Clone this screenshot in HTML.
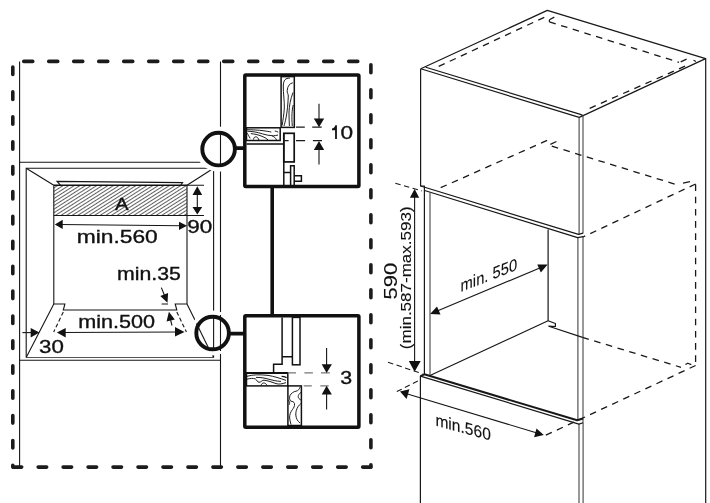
<!DOCTYPE html>
<html><head><meta charset="utf-8">
<style>
html,body{margin:0;padding:0;background:#fff;width:710px;height:503px;overflow:hidden}
svg{display:block;will-change:transform}
text{font-family:"Liberation Sans",sans-serif;fill:#111;stroke:#111;stroke-width:0.35}
.t{stroke:#151515;stroke-width:1.1;fill:none}
.g{stroke:#555;stroke-width:1.2;fill:none}
.k{stroke:#111;fill:none}
.d{stroke:#1c1c1c;stroke-width:3.6;stroke-linecap:round;fill:none}
.h{fill:#fff;stroke:none}
.ah{fill:#111;stroke:none}
.dl{stroke:#1a1a1a;stroke-width:1.1;fill:none;stroke-dasharray:5.5 3.5}
.w{stroke:#111;stroke-width:0.95;fill:none}
.b{stroke:#111;stroke-width:1.5;fill:none}
.b *{fill:none}
.c{stroke:#181818;stroke-width:1.2;fill:none;stroke-linejoin:round}
.dc{stroke:#181818;stroke-width:1.3;fill:none;stroke-dasharray:6.6 5.6}
</style></head>
<body>
<svg width="710" height="503" viewBox="0 0 710 503">
<defs>
<pattern id="hatch" patternUnits="userSpaceOnUse" width="6" height="3.0" patternTransform="rotate(-32.4)">
<line x1="0" y1="1.5" x2="6" y2="1.5" stroke="#222" stroke-width="0.72"/>
</pattern>
</defs>

<!-- ===== LEFT: heavy dashed border ===== -->
<line class="d" x1="23.75" y1="61.4" x2="360" y2="61.4" stroke-dasharray="9 16"/>
<line class="d" x1="370.9" y1="64.7" x2="370.9" y2="467.1" stroke-dasharray="8 17"/>
<line class="d" x1="13.2" y1="467.1" x2="370.9" y2="467.1" stroke-dasharray="8.5 16.46"/>
<line class="d" x1="12.8" y1="67" x2="12.8" y2="467.1" stroke-dasharray="7.5 17.4"/>

<!-- cabinet thin lines -->
<line class="t" x1="19.6" y1="61.4" x2="19.6" y2="467.1"/>
<line class="t" x1="220.5" y1="61.4" x2="220.5" y2="467.1"/>
<line class="t" x1="19.6" y1="162.3" x2="220.5" y2="162.3"/>
<line class="t" x1="19.6" y1="360.3" x2="220.5" y2="360.3"/>

<!-- oven outer -->
<path class="t" d="M26.2,357.5 V168.2 H213.6 V357.5"/>
<line class="g" x1="26.2" y1="357.5" x2="213.6" y2="357.5" stroke-width="1.4"/>
<!-- corner diagonals -->
<path class="t" d="M26.2,168.2 L53.8,185.3 M213.6,168.2 L187,185.3 M26.2,357.5 L53.8,304 M213.6,357.5 L187,304"/>
<!-- inner verticals -->
<path class="t" d="M53.8,185.3 V304 M187,185.3 V304"/>
<!-- trapezoid above hatch -->
<path class="t" d="M60.6,185.3 L57,181.4 L182.6,182.6 L180.8,185.3"/>
<!-- hatched rect -->
<rect x="53.8" y="185.3" width="133.2" height="30.2" fill="url(#hatch)"/>
<line class="k" x1="53.8" y1="185.3" x2="187" y2="185.3" stroke-width="1.5"/>
<line class="t" x1="53.8" y1="215.5" x2="187" y2="215.5"/>
<!-- bottom notches -->
<path class="t" d="M53.8,304 H64.9 L63.3,310 H176.8 L175.2,304 H187"/>
<line class="t" x1="63.3" y1="312" x2="53.7" y2="332" stroke-dasharray="4 2.5"/>
<line class="t" x1="176.8" y1="312" x2="186.4" y2="332" stroke-dasharray="4 2.5"/>

<!-- dimension min.560 -->
<line class="t" x1="60" y1="224.5" x2="182" y2="225.7"/>
<path class="ah" d="M54.8,224.4 L62.7,219.8 L62.7,229 Z M187,225.8 L179,221.7 L179,230 Z"/>
<!-- dimension 90 -->
<path class="t" d="M187,185.3 H204 M187,215.5 H204 M197.3,192 V209"/>
<path class="ah" d="M197.3,186.3 L192.5,194.9 L202.2,194.9 Z M197.3,214.6 L192.5,206.9 L202.2,206.9 Z"/>
<!-- min.35 arrows -->
<path class="t" d="M161.4,287.6 L164.5,295.5 M161.6,304 H168 M170.6,320 L172,325.5"/>
<path class="ah" d="M167.5,302.8 L160.3,295.9 L168.1,292.9 Z M168.9,311.8 L166.6,321.5 L174.8,319.5 Z"/>
<!-- min.500 -->
<line class="t" x1="62" y1="332.5" x2="180" y2="332"/>
<path class="ah" d="M56.9,332.6 L65.7,327.9 L65.7,337.4 Z M184.5,331.9 L175,326.9 L175,336.4 Z"/>
<!-- 30 -->
<line class="t" x1="22.4" y1="332.6" x2="33" y2="332.6"/>
<path class="ah" d="M39.4,332.6 L30.7,327.9 L30.7,337.4 Z"/>

<!-- texts left -->
<text x="115" y="210.4" font-size="16.5" textLength="13.6" lengthAdjust="spacingAndGlyphs">A</text>
<text x="76.8" y="242.6" font-size="18.2" textLength="81" lengthAdjust="spacingAndGlyphs">min.560</text>
<text x="187.3" y="233.3" font-size="18.2" textLength="25" lengthAdjust="spacingAndGlyphs">90</text>
<text x="117" y="279.8" font-size="17.8" textLength="63.8" lengthAdjust="spacingAndGlyphs">min.35</text>
<text x="78.2" y="327.8" font-size="18" textLength="76.8" lengthAdjust="spacingAndGlyphs">min.500</text>
<text x="39.1" y="352.5" font-size="18.5" textLength="24.8" lengthAdjust="spacingAndGlyphs">30</text>

<!-- circle halos -->
<circle class="h" cx="218.6" cy="149.1" r="22.7"/>
<circle class="h" cx="212.6" cy="333" r="22.4"/>
<!-- lines visible inside circles -->
<line class="t" x1="220.5" y1="131" x2="220.5" y2="167"/>
<line class="t" x1="220.5" y1="315" x2="220.5" y2="351"/>
<line class="t" x1="213.6" y1="315" x2="213.6" y2="351"/>
<line class="t" x1="196.5" y1="323.6" x2="210" y2="351"/>
<!-- circles -->
<circle cx="218.6" cy="149.1" r="16.3" fill="none" stroke="#111" stroke-width="3.9"/>
<circle cx="212.6" cy="333" r="16.3" fill="none" stroke="#111" stroke-width="3.9"/>
<!-- connectors -->
<path d="M234.5,148.1 H246 M228.5,333.6 H246 M272.2,186 V316" stroke="#111" stroke-width="3.6" fill="none"/>

<!-- ===== detail box 1 ===== -->
<rect x="244.8" y="74.9" width="114.1" height="111.5" fill="none" stroke="#111" stroke-width="3.5" rx="1"/>
<g class="b">
<rect x="281.1" y="76.6" width="13.2" height="50.8"/>
<rect x="246.5" y="127.8" width="33.7" height="12.7"/>
<path d="M246.5,144.1 H283.8 M283.8,133.3 V186 M290.6,186 V165.8 H294.2 V186 M283.8,172.6 H290.6 M294.2,175.8 H301.4 V181.2 H294.2"/>
<rect x="283.8" y="133.3" width="10.4" height="28.6" stroke-width="1.7"/>
</g>
<!-- wood grain box1 -->
<g class="w">
<path d="M289.8,78.2 C285.5,78 283.4,80 283.3,86 C283.1,93 284.6,101 284.3,108 C284,115 282.8,120 282.2,125.5"/>
<path d="M292.8,82.8 C289.5,83.5 287.6,86 287.2,90.5 C287,93 288.3,94 288.3,96 C288,104 287.2,112 286,118 C285.4,121 284.6,124 284,126"/>
<path d="M293,92.5 C290.5,99 289.2,106 289,112 C288.9,117 289.3,121 289.4,126"/>
<path d="M293.2,105 C292,110 291.5,116 292.3,126"/>
<path d="M247,129.7 C252,129.8 258,130 264,130.8 C267,131.3 269,131.5 271.3,132"/>
<path d="M247.4,131.2 C252,131.4 257,132 262.6,133.9 C266,135 269.4,135.6 273.3,135.8 C275,135.8 276.5,135.4 278,135"/>
<path d="M247.4,133.3 C248,134.5 248.8,136 250.2,138.4"/>
<path d="M250.8,133.6 C254,133.9 258,134.6 262,136.3 C264.5,137.4 266.6,138.4 268.2,140"/>
<path d="M253.4,139.6 C253.6,137.6 254.8,136.6 256.4,136.9 C257.6,137.2 258.4,138.4 258.9,140"/>
<path d="M272.2,136 C274,136.6 275.6,138 276.6,140"/>
<path d="M274.8,131 C276.2,131.2 277.3,131.6 278.2,132.2"/>
</g>
<!-- dims box1 -->
<path d="M296,127.2 H304.8 M312.2,127.2 H321.7 M284.3,140.6 H288.6 M296,140.6 H305.1 M312.9,140.6 H322" stroke="#1a1a1a" stroke-width="1.2"/>
<path class="t" d="M319,103.7 V119 M319,150 V164.5" stroke-width="1.1"/>
<path class="ah" d="M319,127.2 L313.8,118.6 L324.2,118.6 Z M319,140.9 L313.8,150 L324.2,150 Z"/>
<text x="340.5" y="138.9" font-size="18.8" textLength="12.6" lengthAdjust="spacingAndGlyphs">0</text>
<path d="M336.9,138.9 V125.3 L335.3,125.3 C334.9,127.2 333.6,128.4 332,128.6 V130.3 H335.1 V138.9 Z" fill="#111" stroke="none"/>

<!-- ===== detail box 2 ===== -->
<rect x="244.8" y="315.7" width="114.1" height="111.6" fill="none" stroke="#111" stroke-width="3.5" rx="1"/>
<g class="b">
<path d="M282.1,317.4 V364.3 H273.6 V372.9 M282.1,356.8 H292.4"/>
<rect x="292.4" y="317.4" width="7.6" height="47.4"/>
<rect x="246.5" y="372.9" width="41.3" height="13"/>
<rect x="287.9" y="385.9" width="13.5" height="39.6"/>
</g>
<line x1="246.5" y1="372.9" x2="287.8" y2="372.9" stroke="#111" stroke-width="2"/>
<g class="w">
<path d="M247,376.3 C253,374.5 260,374.5 268,375.4 C274,376.3 280,378.3 286,380.4"/>
<path d="M247,379.2 C250,378.4 253,378 255.5,379 C257,380 257.5,382.3 259,382.3 C261,382.3 262,380.2 264,380.2 C268,380.6 272,382.2 276,383.6 C279,384.5 282,384 286,382.6"/>
<path d="M261,385.6 C261.4,383.6 263,382.6 264.5,383.1 C266,383.6 267,385 267.4,385.8"/>
<path d="M256,377.4 C260,377.3 264,377.9 268,379 C272,380.1 276,381.2 281,381.4"/>
<path d="M281.6,376.4 C283.3,376.4 285,376.9 286.6,377.6" stroke-width="1.3"/>
<path d="M300.4,386.6 C299.6,389 298.2,390.8 296,391.2 C293.5,391.6 291.2,393.2 290,395.5 C289.2,397.5 289.4,400.5 291,401.2 C292.5,401.5 294,401.6 294.5,403.7 C295,406 293.5,408 292.5,409.5 C290.5,412 289.4,415 289.6,418 C289.8,420 290.4,422 291,424.5"/>
<path d="M300.9,392.4 C299.4,393.5 298.2,395 298.2,396.6 C298.3,398.2 299.5,399.3 300.9,400"/>
<path d="M300.9,403.5 C298.8,405.3 297.1,407.5 296.3,410.5 C295.5,413.5 295.6,416.5 297,419.5 C297.8,421 298.8,422 300,423"/>
<path d="M288.4,400 C289.6,401.5 290,403 289.2,404.8"/>

</g>
<path d="M287.8,372.9 H296 M304.4,372.9 H312.9 M321,372.9 H329.8 M301.4,385.9 H301.6 M303.7,385.9 H311.8 M320.3,385.9 H328.7" stroke="#777" stroke-width="1.4"/>
<path class="t" d="M326.6,348 V365 M326.6,394 V409.6" stroke-width="1.1"/>
<path class="ah" d="M326.6,373 L321.7,364.3 L331.9,364.3 Z M326.6,385.8 L321.7,394.5 L331.9,394.5 Z"/>
<text x="340.2" y="384.2" font-size="18" textLength="11.9" lengthAdjust="spacingAndGlyphs">3</text>

<!-- ===== RIGHT: cabinet ===== -->
<!-- top face -->
<path class="c" d="M420.8,68.7 L547.3,10.4 L705.6,58.6 L583.1,115.6 L580.4,114.4 L425.8,67.3"/>
<path class="c" d="M420.8,68.7 L579.2,117.4 L583.1,115.6"/>
<!-- top face dashed -->
<path class="dc" d="M438.7,66.4 L546.9,16.1 M549.4,21.9 L679,62.3 M589.7,108.3 L690,64"/>
<path class="c" d="M549.4,19.8 L554.3,17.1 M549.4,19.8 V21.9 M680.7,61.9 L686.6,59.1 M693.5,60.3 L696,61.5"/>
<!-- verticals -->
<path class="c" d="M420.6,68.7 V186 H424.4 V374.2 M420.4,376.1 V503 M705.7,58.6 V503"/>
<path class="g" d="M579.1,117.4 V234.4 M583,115.6 V233.2 M577.9,237.8 V420.3 M583,236.6 V422.8 M579,424.1 V503 M583.1,422.8 V503"/>
<!-- upper cabinet bottom edge (double) -->
<path class="c" d="M420.6,186 L578.5,234.4 L583.1,233.2 M424.6,190.5 L577.6,237.6 L583.1,236.6"/>
<!-- niche -->
<line class="g" x1="430" y1="192.3" x2="430" y2="374.9"/>
<path class="c" d="M548.1,229.4 V320.7 L430,375.5 M548.1,320.7 L555.4,323.5 V326.5 L548.8,326.2 L582.5,337.4"/>
<!-- niche hidden dashed -->
<path class="dc" d="M440.7,187.7 L549.4,139.4 M551.8,146.1 L678.3,185.2 M695.6,184 L583,237 M695.6,184.5 V365.5 M582.5,337.4 L681,367.3 M695.6,365.5 L543,436.5"/>
<path class="c" d="M550.4,144.4 L556.4,141.5 M683,183.2 L690,181.6 M685.4,364.5 L687.8,363.2 L691.3,364.6"/>
<!-- lower cabinet top edge (double) -->
<path class="c" d="M420.4,376.1 L424.3,374.3 L577.2,420.3 L583,418.5" style="stroke-width:2"/>
<path class="c" d="M420.4,376.1 L578.9,424.1 L583.1,422.8"/>
<!-- dim 590 -->
<line class="t" x1="414.6" y1="196" x2="414.6" y2="363"/>
<path class="ah" d="M414.6,188.9 L409.9,197.8 L419.2,197.8 Z M414.6,371.7 L408.8,361 L420.7,361 Z"/>
<path class="dl" d="M395.3,183.2 L421.9,190.9 M388,362.2 L422.5,373.8"/>
<text style="stroke-width:0.1" transform="translate(396.6,299.4) rotate(-90)" font-size="18" textLength="36.7" lengthAdjust="spacingAndGlyphs">590</text>
<text style="stroke-width:0.1" transform="translate(410.8,349.2) rotate(-90)" font-size="14" textLength="142.8" lengthAdjust="spacingAndGlyphs">(min.587-max.593)</text>
<!-- dim min.550 -->
<line class="t" x1="436" y1="311.6" x2="541" y2="267.4"/>
<path class="ah" d="M430.1,314.1 L437,306.5 L440.5,314.5 Z M547.7,264.6 L537.3,264.4 L540.8,272.4 Z"/>
<text style="stroke-width:0.1" transform="translate(460.6,292) skewY(-21.5)" font-size="17" textLength="56.5" lengthAdjust="spacingAndGlyphs">min. 550</text>
<!-- dim min.560 right -->
<line class="t" x1="405" y1="393.3" x2="537" y2="433"/>
<path class="ah" d="M400,391.5 L409.4,389.2 L406.6,399 Z M543.8,434.9 L536.5,428.5 L534.1,437.2 Z"/>
<path class="dl" d="M396.8,391.6 L420.4,379.8"/>
<text style="stroke-width:0.15" transform="translate(435.4,425.4) skewY(15.3)" font-size="16.8" textLength="55.4" lengthAdjust="spacingAndGlyphs">min.560</text>
</svg>
</body></html>
